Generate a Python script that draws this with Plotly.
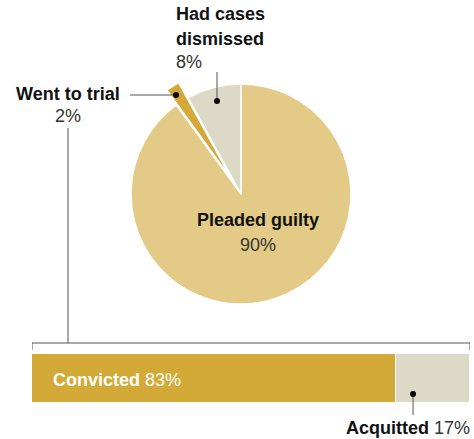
import plotly.graph_objects as go

# Data
pie_labels = ["Pleaded guilty", "Went to trial", "Had cases dismissed"]
pie_values = [90, 2, 8]
pie_colors = ["#E3CA86", "#D3A937", "#DCD9C6"]

bar_labels = ["Convicted", "Acquitted"]
bar_values = [83, 17]
bar_colors = ["#D3A937", "#DCD9C6"]

W, H = 474, 439
FONT = "Liberation Sans"

def px(x):
    return x / W

def py(y):
    return 1 - y / H

fig = go.Figure()

pull = 0.16
cx, cy, r = 241, 194, 110
half = r * (1 + pull)
fig.add_trace(go.Pie(
    labels=pie_labels, values=pie_values, sort=False, direction="clockwise",
    rotation=0, pull=[0, pull, 0],
    marker=dict(colors=pie_colors, line=dict(color="white", width=1.5)),
    textinfo="none", hoverinfo="label+percent", showlegend=False,
    domain=dict(x=[px(cx - half), px(cx + half)], y=[py(cy + half), py(cy - half)]),
))

for lab, val, col in zip(bar_labels, bar_values, bar_colors):
    fig.add_trace(go.Bar(
        y=[0], x=[val], orientation="h", name=lab, width=1,
        marker=dict(color=col, line=dict(color="white", width=1.5)),
        showlegend=False, hoverinfo="name+x",
    ))

fig.update_layout(
    width=W, height=H, margin=dict(l=0, r=0, t=0, b=0),
    paper_bgcolor="white", plot_bgcolor="white", barmode="stack", bargap=0,
    xaxis=dict(domain=[px(32), px(470)], range=[0, 100], visible=False, fixedrange=True),
    yaxis=dict(domain=[py(403), py(354)], range=[-0.5, 0.5], visible=False, fixedrange=True),
    font=dict(family=FONT, color="#222"),
)

ann = []
def text(x, y, s, size=18, xanchor="center", color="#222", xref="paper"):
    ann.append(dict(x=x, y=y, xref=xref, yref="paper", text=s, showarrow=False,
                    xanchor=xanchor, yanchor="middle", font=dict(size=size, color=color, family=FONT)))

# Pie labels
text(px(174), py(14), "<b>Had cases</b>", xanchor="left", color="#111")
text(px(174), py(39), "<b>dismissed</b>", xanchor="left", color="#111")
text(px(174), py(62), f"{pie_values[2]}%", xanchor="left", color="#333")
text(px(68), py(94), "<b>Went to trial</b>", color="#111")
text(px(68), py(116), f"{pie_values[1]}%", color="#333")
text(px(258), py(220), "<b>Pleaded guilty</b>", color="#111")
text(px(258), py(245), f"{pie_values[0]}%", color="#333")

# Bar labels
text(px(51), py(380), f"<b>Convicted</b> {bar_values[0]}%", xanchor="left", color="white")
text(px(472), py(428), f"<b>Acquitted</b> <span style='color:#333'>{bar_values[1]}%</span>",
     xanchor="right", color="#111")

fig.update_layout(annotations=ann)

shapes = []
lc = "#555"
def line(x0, y0, x1, y1, xref="paper"):
    shapes.append(dict(type="line", xref=xref, yref="paper", x0=x0, y0=y0, x1=x1, y1=y1,
                       line=dict(color=lc, width=1)))
def dot(x, y, xref="paper"):
    shapes.append(dict(type="circle", xref=xref, yref="paper", xsizemode="pixel", ysizemode="pixel",
                       xanchor=x, yanchor=y, x0=-3, x1=3, y0=-3, y1=3,
                       fillcolor="black", line=dict(width=0)))

# dismissed leader
line(px(217), py(72), px(217), py(101))
dot(px(217), py(101))
# trial leader
line(px(130), py(95), px(176), py(95))
dot(px(176), py(95))
# trial -> bracket
line(px(68), py(128), px(68), py(343))
# bracket
line(0, py(343), 100, py(343), xref="x")
line(0, py(343), 0, py(350), xref="x")
line(100, py(343), 100, py(350), xref="x")
# acquitted leader
acq_x = bar_values[0] + 4
line(acq_x, py(394), acq_x, py(415), xref="x")
dot(acq_x, py(394), xref="x")

fig.update_layout(shapes=shapes)
fig.write_html("out.html", config={"displayModeBar": False},
               post_script="document.body.style.margin='0';document.body.style.overflow='hidden';")
